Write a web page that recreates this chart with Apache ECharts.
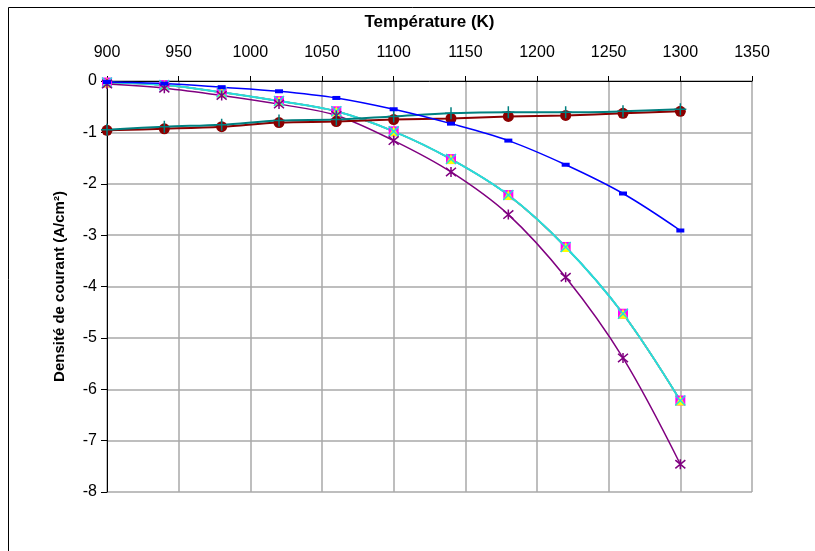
<!DOCTYPE html>
<html>
<head>
<meta charset="utf-8">
<script src="https://cdn.jsdelivr.net/npm/echarts@6/dist/echarts.min.js"></script>
<style>
html,body{margin:0;padding:0;background:#fff;}
#chart{width:815px;height:551px;}
</style>
</head>
<body>
<div id="chart"></div>
<script>
// Températures (K)
const temperatures = [900, 940, 980, 1020, 1060, 1100, 1140, 1180, 1220, 1260, 1300];
// Séries de densité de courant (A/cm²)
const serieBleue   = [-0.02, -0.05, -0.12, -0.20, -0.33, -0.55, -0.83, -1.16, -1.63, -2.19, -2.91];
const serieMarron  = [-0.96, -0.93, -0.89, -0.81, -0.79, -0.75, -0.73, -0.69, -0.67, -0.63, -0.59];
const serieSarcelle= [-0.95, -0.89, -0.85, -0.77, -0.75, -0.69, -0.63, -0.61, -0.61, -0.59, -0.55];
const serieGroupe  = [-0.03, -0.08, -0.22, -0.39, -0.59, -0.98, -1.52, -2.22, -3.23, -4.53, -6.22];
const serieViolette= [-0.06, -0.14, -0.28, -0.45, -0.67, -1.16, -1.77, -2.60, -3.82, -5.39, -7.46];
// Axes
const xTicks = {min: 900, max: 1350, interval: 50};
const yTicks = {min: -8, max: 0, interval: 1};

const pair = arr => temperatures.map((t, i) => [t, arr[i]]);
const FONT = "'Liberation Sans', Arial, sans-serif";

const plusPath = 'path://M5,0L5,10M0,5L10,5';
const crossPath = 'path://M0,0L10,10M10,0L0,10';
const starPath = 'path://M0,0L10,10M10,0L0,10M5,-1L5,11';

function mk(name, data, color, lw, symbol, size, itemStyle) {
  return {
    name, type: 'line', data: pair(data), smooth: 0.35,
    symbol, symbolSize: size,
    lineStyle: {color, width: lw},
    itemStyle: Object.assign({color}, itemStyle || {}),
    emphasis: {disabled: true}, animation: false
  };
}

const chart = echarts.init(document.getElementById('chart'), null, {renderer: 'canvas'});
chart.setOption({
  backgroundColor: '#fff',
  animation: false,
  textStyle: {fontFamily: FONT},
  grid: {left: 107, right: 63, top: 81, bottom: 59, containLabel: false},
  graphic: [{
    type: 'rect', shape: {x: 8.5, y: 7.5, width: 900, height: 700},
    style: {fill: 'none', stroke: '#000', lineWidth: 1}, silent: true, z: -10
  }],
  xAxis: {
    type: 'value', position: 'top', min: xTicks.min, max: xTicks.max, interval: xTicks.interval,
    name: 'Température (K)', nameLocation: 'middle', nameGap: 50,
    nameTextStyle: {fontFamily: FONT, fontWeight: 'bold', fontSize: 17, color: '#000'},
    axisLine: {show: true, onZero: false, lineStyle: {color: '#000', width: 1}},
    axisTick: {show: true, inside: false, length: 5, lineStyle: {color: '#000'}},
    axisLabel: {fontFamily: FONT, fontSize: 16, color: '#000', margin: 20, formatter: v => String(v)},
    splitLine: {show: true, lineStyle: {color: '#a8a8a8', width: 1.5}}
  },
  yAxis: {
    type: 'value', min: yTicks.min, max: yTicks.max, interval: yTicks.interval,
    name: 'Densité de courant (A/cm²)', nameLocation: 'middle', nameGap: 40,
    nameTextStyle: {fontFamily: FONT, fontWeight: 'bold', fontSize: 15, color: '#000'},
    axisLine: {show: true, onZero: false, lineStyle: {color: '#000', width: 1}},
    axisTick: {show: true, inside: false, length: 6, lineStyle: {color: '#000'}},
    axisLabel: {fontFamily: FONT, fontSize: 16, color: '#000', margin: 10, formatter: v => String(v)},
    splitLine: {show: true, lineStyle: {color: '#a8a8a8', width: 1.5}}
  },
  series: [
    mk('S1', serieGroupe, '#000080', 1.5, 'diamond', 6),
    mk('S2', serieGroupe, '#ff00ff', 1.5, 'rect', 10),
    mk('S3', serieGroupe, '#ffff00', 1.5, 'triangle', 10),
    mk('S4', serieGroupe, '#22dede', 2, crossPath, 10, {color: '#22dede', borderColor: '#22dede', borderWidth: 1.5}),
    mk('S5', serieViolette, '#800080', 1.5, starPath, 10, {borderColor: '#800080', borderWidth: 1.5}),
    mk('S6', serieMarron, '#8b0000', 2, 'circle', 11),
    mk('S7', serieSarcelle, '#008080', 2, plusPath, 12, {borderColor: '#008080', borderWidth: 1.5}),
    mk('S8', serieBleue, '#0000ff', 1.5, 'rect', [8, 4])
  ]
});
</script>
</body>
</html>
